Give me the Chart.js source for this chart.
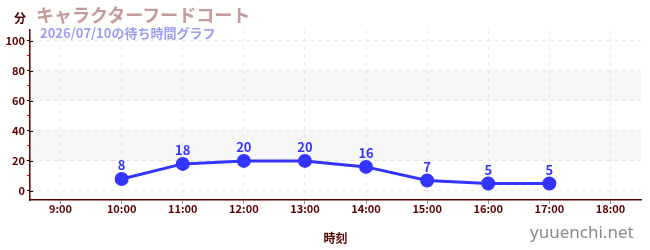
<!DOCTYPE html>
<html>
<head>
<meta charset="utf-8">
<script src="https://cdn.jsdelivr.net/npm/chart.js@4"></script>
<style>
  body { margin: 0; background: #fff; }
  #wrap { position: relative; width: 650px; height: 250px; font-family: "Noto Sans CJK JP", sans-serif; }
  #c { position: absolute; left: 0; top: 0; }
  .txt { position: absolute; white-space: nowrap; font-weight: bold; }
  #title { left: 36px; top: 1px; font-size: 18px; color: #c49a9a; }
  #sub { left: 40px; top: 23px; font-size: 13px; color: #9d9df2; }
  #unit { left: 14px; top: 9px; font-size: 12px; color: #4a0000; }
  #mark { left: 530px; top: 220px; font-size: 17px; color: #8a8a8a; font-weight: normal; font-family: "Noto Sans", sans-serif; }
</style>
</head>
<body>
<div id="wrap">
  <canvas id="c" width="650" height="250"></canvas>
  <div class="txt" id="unit">分</div>
  <div class="txt" id="title">キャラクターフードコート</div>
  <div class="txt" id="sub">2026/07/10の待ち時間グラフ</div>
  <div class="txt" id="mark">yuuenchi.net</div>
</div>
<script>
const hours = ['9:00', '10:00', '11:00', '12:00', '13:00', '14:00', '15:00', '16:00', '17:00', '18:00'];
const waits = [null, 8, 18, 20, 20, 16, 7, 5, 5, null];
const yTicks = [0, 10, 20, 30, 40, 50, 60, 70, 80, 90, 100];
const bands = [[20, 40], [60, 80]];

const MAROON = '#5a0000';
const BLUE = '#3434ff';

// grey bands, major tick crosses and value labels
const extras = {
  id: 'extras',
  beforeDatasetsDraw(chart) {
    const { ctx, chartArea, scales: { y } } = chart;
    ctx.save();
    ctx.fillStyle = 'rgba(0,0,0,0.032)';
    bands.forEach(([a, b]) => {
      const top = y.getPixelForValue(b), bot = y.getPixelForValue(a);
      ctx.fillRect(chartArea.left, top, chartArea.right - chartArea.left, bot - top);
    });
    ctx.restore();
  },
  afterDraw(chart) {
    const { ctx, chartArea, scales: { y } } = chart;
    ctx.save();
    ctx.strokeStyle = '#000';
    ctx.lineWidth = 1;
    yTicks.filter(v => v % 20 === 0).forEach(v => {
      const py = Math.round(y.getPixelForValue(v)) + 0.5;
      ctx.beginPath();
      ctx.moveTo(chartArea.left, py);
      ctx.lineTo(chartArea.left + 3, py);
      ctx.stroke();
    });
    ctx.fillStyle = BLUE;
    ctx.font = 'bold 13px "Noto Sans CJK JP", sans-serif';
    ctx.textAlign = 'center';
    ctx.textBaseline = 'bottom';
    chart.getDatasetMeta(0).data.forEach((pt, i) => {
      if (waits[i] == null) return;
      ctx.fillText(waits[i], pt.x, pt.y - 7);
    });
    ctx.restore();
  }
};

new Chart(document.getElementById('c'), {
  type: 'line',
  data: {
    labels: hours,
    datasets: [{
      data: waits,
      borderColor: BLUE,
      backgroundColor: BLUE,
      borderWidth: 3,
      pointRadius: 5.5,
      pointHoverRadius: 5.5,
      tension: 0,
      fill: false
    }]
  },
  options: {
    responsive: false,
    animation: false,
    layout: { padding: { top: 30, right: 9, left: 0, bottom: 0 } },
    plugins: { legend: { display: false }, tooltip: { enabled: false } },
    scales: {
      x: {
        offset: true,
        grid: { color: '#ebebeb', tickColor: '#999', tickLength: 4, offset: false },
        border: { color: MAROON, width: 1.5, dash: [4, 4] },
        ticks: { color: MAROON, font: { size: 11, weight: 'bold', family: '"Noto Sans CJK JP", sans-serif' }, padding: -2, maxRotation: 0 },
        title: { display: true, text: '時刻', color: MAROON, font: { size: 12, weight: 'bold', family: '"Noto Sans CJK JP", sans-serif' }, padding: { top: 8 } },
        afterFit: s => { s.height = 50; }
      },
      y: {
        min: -6,
        max: 107,
        afterBuildTicks: s => { s.ticks = yTicks.map(v => ({ value: v })); },
        grid: {
          color: c => (c.tick && c.tick.value % 20 === 0) ? '#ebebeb' : 'rgba(0,0,0,0)',
          tickColor: c => (c.tick && c.tick.value % 20 === 0) ? '#000' : '#e00',
          tickLength: 3
        },
        border: { color: MAROON, width: 1.5, dash: [4, 4] },
        ticks: {
          color: MAROON,
          font: { size: 11, weight: 'bold', family: '"Noto Sans CJK JP", sans-serif' },
          padding: 2,
          autoSkip: false,
          callback: v => v % 20 === 0 ? v : ''
        },
        afterFit: s => { s.width = 30; }
      }
    }
  },
  plugins: [extras]
});
</script>
</body>
</html>
